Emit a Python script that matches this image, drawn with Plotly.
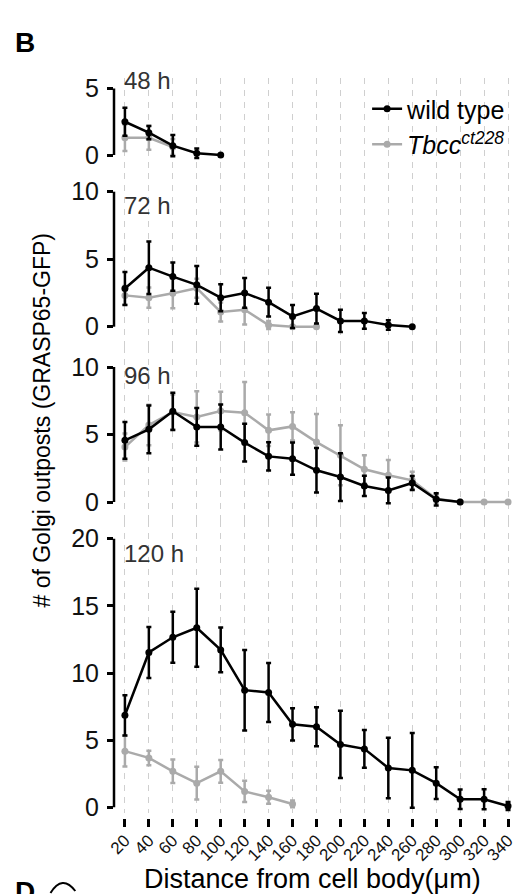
import plotly.graph_objects as go

# ---------------- data ----------------
distance = [20, 40, 60, 80, 100, 120, 140, 160, 180, 200, 220, 240, 260, 280, 300, 320, 340]
tick_labels = [str(d) for d in distance]

wt_48 = [2.5, 1.68, 0.7, 0.13, 0.0]
wt_48_sd = [1.05, 0.5, 0.8, 0.35, 0.0]
mut_48 = [1.3, 1.3, 0.6]
mut_48_sd = [1.0, 0.9, 0.6]

wt_72 = [2.83, 4.37, 3.71, 3.1, 2.15, 2.5, 1.82, 0.76, 1.34, 0.43, 0.43, 0.13, 0.0]
wt_72_sd = [1.23, 1.95, 1.05, 1.4, 1.0, 1.1, 1.06, 0.85, 1.1, 0.82, 0.58, 0.35, 0.0]
mut_72 = [2.32, 2.15, 2.47, 2.85, 1.09, 1.26, 0.13, 0.0, 0.0]
mut_72_sd = [0.7, 0.75, 1.1, 0.7, 0.7, 1.1, 0.3, 0.0, 0.0]

wt_96 = [4.57, 5.38, 6.72, 5.56, 5.56, 4.4, 3.38, 3.21, 2.35, 1.85, 1.19, 0.86, 1.41, 0.2, 0.0]
wt_96_sd = [1.36, 1.77, 1.38, 1.4, 1.67, 1.4, 1.05, 1.2, 1.65, 1.77, 0.75, 0.96, 0.52, 0.45, 0.0]
mut_96 = [4.07, 5.7, 6.67, 6.3, 6.74, 6.62, 5.31, 5.6, 4.44, 3.46, 2.42, 1.98, 1.6, 0.25, 0.0, 0.0, 0.0]
mut_96_sd = [1.0, 1.5, 1.3, 1.9, 1.42, 2.27, 1.17, 1.05, 2.07, 2.22, 1.05, 1.14, 0.64, 0.3, 0.0, 0.0, 0.0]

wt_120 = [6.85, 11.53, 12.66, 13.37, 11.72, 8.72, 8.55, 6.18, 6.0, 4.68, 4.35, 2.93, 2.75, 1.8, 0.6, 0.6, 0.1]
wt_120_sd = [1.5, 1.9, 1.9, 2.9, 1.66, 3.0, 2.2, 1.2, 1.45, 2.5, 1.4, 2.25, 2.78, 1.19, 0.72, 0.75, 0.3]
mut_120 = [4.18, 3.68, 2.68, 1.8, 2.68, 1.18, 0.75, 0.25]
mut_120_sd = [1.15, 0.54, 0.87, 1.22, 0.85, 0.79, 0.48, 0.25]

panel_names = ["48 h", "72 h", "96 h", "120 h"]
panel_ticks = [[0, 5], [0, 5, 10], [0, 5, 10], [0, 5, 10, 15, 20]]
panel_max = [5, 10, 10, 20]
wt_series = [(wt_48, wt_48_sd), (wt_72, wt_72_sd), (wt_96, wt_96_sd), (wt_120, wt_120_sd)]
mut_series = [(mut_48, mut_48_sd), (mut_72, mut_72_sd), (mut_96, mut_96_sd), (mut_120, mut_120_sd)]

legend_wt = "wild type"
legend_mut = "<i>Tbcc</i><sup><i>ct228</i></sup>"
x_title = "Distance from cell body(\u03bcm)"
y_title = "# of Golgi outposts (GRASP65-GFP)"

# ---------------- geometry (pixels) ----------------
W, H = 521, 894
L, R = 114, 517          # plot area left / right
T, B = 78, 818           # plot area top / bottom
PH = B - T
# per panel: domain top, domain bottom, pixel of 0, pixel of max value
geo = [(78, 173, 155.0, 88.5),
       (173, 347, 326.7, 191.7),
       (347, 521, 502.0, 367.0),
       (521, 813, 807.3, 538.7)]
label_px = [81, 205, 375, 553]

def py(p):
    return (B - p) / PH

def px(p):
    return (p - L) / (R - L)

# x range from pixel calibration (20 -> 125 px, 340 -> 511 px)
xs = (511 - 125) / (340 - 20)
x_range = [20 - (125 - L) / xs, 340 + (R - 511) / xs]

BLACK = "#000000"
GRAY = "#aaaaaa"
FONT = "Liberation Sans, Arial, Helvetica, sans-serif"

fig = go.Figure()
axis_ids = ["y", "y2", "y3", "y4"]

for i in range(4):
    yid = axis_ids[i]
    for (vals, sd), color, name, rank in [(mut_series[i], GRAY, legend_mut, 2),
                                          (wt_series[i], BLACK, legend_wt, 1)]:
        fig.add_trace(go.Scatter(
            x=distance[:len(vals)], y=vals,
            error_y=dict(type="data", array=sd, visible=True, color=color,
                         thickness=2.5, width=2.5),
            mode="lines+markers",
            line=dict(color=color, width=2.5),
            marker=dict(color=color, size=7),
            name=name, legendgroup=name, legendrank=rank,
            showlegend=(i == 0),
            cliponaxis=False,
            xaxis="x", yaxis=yid,
        ))

layout_axes = {}
for i in range(4):
    dtop, dbot, zero, topp = geo[i]
    scale = (zero - topp) / panel_max[i]
    r0 = -(dbot - zero) / scale
    r1 = (zero - dtop) / scale
    key = "yaxis" if i == 0 else "yaxis%d" % (i + 1)
    layout_axes[key] = dict(
        domain=[py(dbot), py(dtop)], range=[r0, r1], anchor="x",
        tickvals=panel_ticks[i], ticks="outside", ticklen=6, tickwidth=2.5,
        tickcolor=BLACK, showline=False, showgrid=False, zeroline=False,
        tickfont=dict(size=25, color="#111111", family=FONT),
        ticklabelstandoff=3,
    )
    fig.add_shape(type="line", xref="paper", yref=axis_ids[i],
                  x0=0, x1=0, y0=0, y1=panel_max[i],
                  line=dict(color=BLACK, width=2.5), layer="above")
    fig.add_annotation(text=panel_names[i], xref="paper", yref="paper",
                       x=px(122), y=py(label_px[i]), xanchor="left", yanchor="middle",
                       showarrow=False, font=dict(size=24, color="#333333", family=FONT))

fig.update_layout(
    width=W, height=H,
    margin=dict(l=L, r=W - R, t=T, b=H - B, pad=0),
    paper_bgcolor="white", plot_bgcolor="white",
    font=dict(family=FONT, color=BLACK),
    xaxis=dict(
        range=x_range, domain=[0, 1], anchor="free", position=0,
        tickvals=distance, ticktext=tick_labels, tickangle=-45,
        ticks="outside", ticklen=8, tickwidth=3, tickcolor=BLACK,
        tickfont=dict(size=17, color="#111111", family=FONT),
        ticklabelstandoff=-3,
        showline=False, zeroline=False,
        showgrid=True, gridcolor="#cfcfcf", gridwidth=1, griddash="6px,6px",
    ),
    showlegend=True,
    legend=dict(x=px(369), y=py(86), xanchor="left", yanchor="top",
                bgcolor="rgba(0,0,0,0)", font=dict(size=25, family=FONT),
                tracegroupgap=0, itemwidth=30),
    **layout_axes,
)

# axis titles and panel letters
fig.add_annotation(text=x_title, xref="paper", yref="paper", x=px(314), y=py(879),
                   xanchor="center", yanchor="middle", showarrow=False,
                   font=dict(size=27, color=BLACK, family=FONT))
fig.add_annotation(text=y_title, xref="paper", yref="paper", x=px(41), y=py(420),
                   xanchor="center", yanchor="middle", textangle=-90, showarrow=False,
                   font=dict(size=23, color=BLACK, family=FONT))
fig.add_annotation(text="<b>B</b>", xref="paper", yref="paper", x=px(12), y=py(43),
                   xanchor="left", yanchor="middle", showarrow=False,
                   font=dict(size=28, color=BLACK, family=FONT))
fig.add_annotation(text="<b>D</b>", xref="paper", yref="paper", x=px(12), y=py(874),
                   xanchor="left", yanchor="top", showarrow=False,
                   font=dict(size=28, color=BLACK, family=FONT))
# small arc next to "D"
fig.add_shape(type="path", xref="paper", yref="paper",
              path="M %f,%f Q %f,%f %f,%f" % (px(50), py(893), px(62), py(874), px(75), py(891)),
              line=dict(color=BLACK, width=2))

fig.write_html("out.html")
